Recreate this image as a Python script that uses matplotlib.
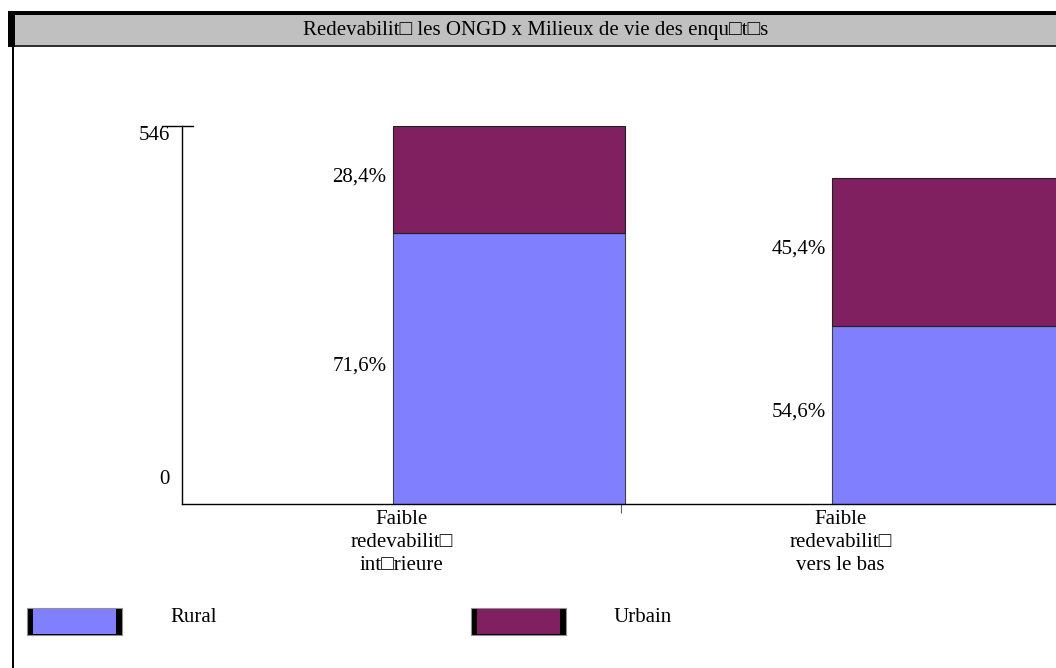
import matplotlib
matplotlib.use('Agg')
import matplotlib.pyplot as plt
from matplotlib.patches import Rectangle

plt.rcParams['font.family'] = ['Liberation Serif', 'DejaVu Serif', 'DejaVu Sans']
plt.rcParams['font.size'] = 15

# effectifs par modalité (ruraux / urbains)
categories = ['Faible\nredevabilit\u25a1\nint\u25a1rieure', 'Faible\nredevabilit\u25a1\nvers le bas']
rural = [391, 257]
urbain = [155, 214]
series_names = ['Rural', 'Urbain']
colors = ['#8080ff', '#802060']
y_max = 546
title = 'Redevabilit\u25a1 les ONGD x Milieux de vie des enqu\u25a1t\u25a1s'

W, H = 1056, 668
fig = plt.figure(figsize=(W / 100, H / 100), dpi=100)


def px(x, y, w, h):
    # rectangle en pixels (origine en haut a gauche) -> fraction de figure
    return (x / W, 1 - (y + h) / H), w / W, h / H


def box(x, y, w, h, **kw):
    (x0, y0), w0, h0 = px(x, y, w, h)
    fig.add_artist(Rectangle((x0, y0), w0, h0, transform=fig.transFigure, **kw))


# cadre + bandeau de titre
box(8, 11, W - 8, 36, facecolor='black', edgecolor='none')
box(15, 15, W - 15, 30, facecolor='#c0c0c0', edgecolor='none')
box(15, 45, W - 15, 2, facecolor='#303030', edgecolor='none')
box(12, 47, 2, H - 47, facecolor='black', edgecolor='none')
fig.text((15 + W) / 2 / W, 1 - 30 / H, title, ha='center', va='center')

ax = fig.add_axes([182 / W, (H - 504) / H, 878 / W, 378 / H])
ax.set_xlim(0, len(categories))
ax.set_ylim(0, y_max)
ax.patch.set_alpha(0)

pos = [i + 0.48 for i in range(len(categories))]
ax.bar(pos, rural, width=0.53, align='edge', color=colors[0], edgecolor='#404040', linewidth=0.8)
ax.bar(pos, urbain, width=0.53, bottom=rural, align='edge', color=colors[1], edgecolor='#202020', linewidth=0.8)

for i in range(len(categories)):
    total = rural[i] + urbain[i]
    for b, v in [(0, rural[i]), (rural[i], urbain[i])]:
        lab = ('%.1f%%' % (100 * v / total)).replace('.', ',')
        ax.annotate(lab, xy=(pos[i], b + v / 2), xytext=(-6, 3), textcoords='offset pixels',
                    ha='right', va='center')
    ax.annotate(categories[i], xy=(i + 0.5, 0), xytext=(0, -6), textcoords='offset pixels',
                ha='center', va='top', linespacing=1.3)

# axes
for s in ['top', 'right']:
    ax.spines[s].set_visible(False)
ax.spines['left'].set_linewidth(1)
ax.spines['bottom'].set_linewidth(1)
ax.set_yticks([])
ax.set_xticks([1])
ax.set_xticklabels([])
ax.tick_params(axis='x', length=6.5, width=0.8, color='#606060')
ax.plot([-20 / 878, 11 / 878], [y_max, y_max], transform=ax.get_yaxis_transform(),
        color='black', linewidth=1, clip_on=False)
ax.annotate(str(y_max), xy=(0, y_max), xycoords=('axes fraction', 'data'), xytext=(-12, -10),
            textcoords='offset pixels', ha='right', va='center')
ax.annotate('0', xy=(0, 0), xycoords=('axes fraction', 'data'), xytext=(-12, 24),
            textcoords='offset pixels', ha='right', va='center')

# legende
for k, (name, c) in enumerate(zip(series_names, colors)):
    lx = 27 + k * 444
    box(lx, 608, 95, 27, facecolor='black', edgecolor='#909090', linewidth=0.8)
    box(lx + 6, 609, 83, 25, facecolor=c, edgecolor='none')
    fig.text((lx + 143) / W, 1 - 617 / H, name, ha='left', va='center')

fig.savefig('out.png', dpi=100)
